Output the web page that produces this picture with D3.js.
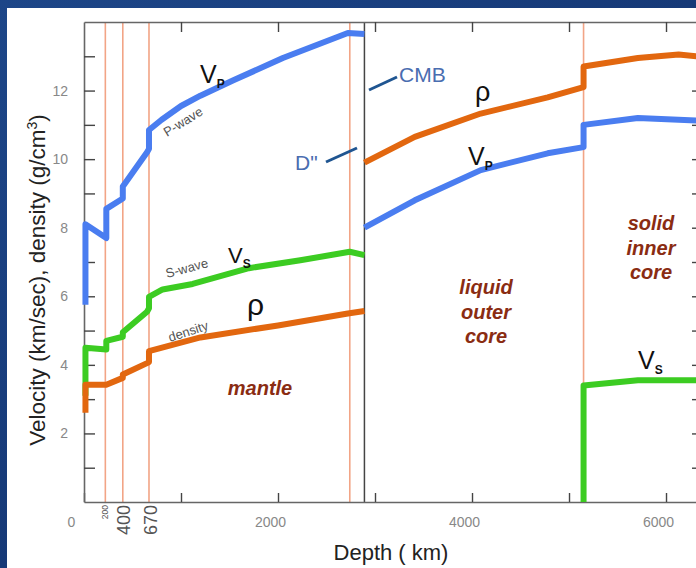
<!DOCTYPE html>
<html>
<head>
<meta charset="utf-8">
<script src="https://cdn.jsdelivr.net/npm/d3@7"></script>
<style>
  body { margin: 0; background: #16356e; }
  svg { display: block; }
  text { font-family: "Liberation Sans", Arial, sans-serif; }
</style>
</head>
<body>
<div id="chart"></div>
<script>
// depth (km) / value pairs
const vpMantle = [[15,5.75],[15,8.1],[230,7.7],[230,8.55],[400,8.85],[400,9.2],[650,10.2],[670,10.3],[670,10.85],[800,11.15],[1000,11.55],[1200,11.85],[1540,12.3],[2050,12.95],[2720,13.68],[2891,13.65]];
const vsMantle = [[15,3.1],[15,4.5],[230,4.45],[230,4.7],[400,4.82],[400,4.95],[650,5.55],[670,5.65],[670,5.98],[810,6.2],[1120,6.36],[1700,6.82],[2230,7.05],[2740,7.3],[2891,7.2]];
const rhoMantle = [[15,2.6],[15,3.42],[230,3.42],[400,3.62],[400,3.72],[650,4.05],[670,4.08],[670,4.4],[1200,4.8],[2000,5.15],[2720,5.5],[2891,5.57]];
const vpCore = [[2891,8.0],[3410,8.8],[4090,9.68],[4780,10.17],[5150,10.35],[5150,11.0],[5710,11.2],[6371,11.12]];
const rhoCore = [[2891,9.9],[3410,10.65],[4090,11.33],[4780,11.8],[5150,12.1],[5150,12.7],[5710,12.95],[6130,13.05],[6371,12.98]];
const vsCore = [[5150,0],[5150,3.4],[5710,3.55],[6371,3.55]];

const boundaries = [220, 400, 670, 2740, 5150];
const cmb = 2891;
const xTicks = [0, 1000, 2000, 3000, 4000, 5000, 6000];
const xLabels = [0, 2000, 4000, 6000];
const yTicks = [1, 2, 3, 4, 5, 6, 7, 8, 9, 10, 11, 12, 13];
const yLabels = [2, 4, 6, 8, 10, 12];

const W = 696, H = 568;
const svg = d3.select("#chart").append("svg").attr("width", W).attr("height", H);

// slide background
const grad = svg.append("defs").append("linearGradient").attr("id", "bg")
    .attr("x1", 0).attr("y1", 0).attr("x2", 1).attr("y2", 1);
grad.append("stop").attr("offset", "0%").attr("stop-color", "#1d4688");
grad.append("stop").attr("offset", "100%").attr("stop-color", "#0f2c66");
svg.append("rect").attr("width", W).attr("height", H).attr("fill", "url(#bg)");
svg.append("rect").attr("x", 7).attr("y", 8).attr("width", W - 7).attr("height", H - 8).attr("fill", "#fff");

const x = d3.scaleLinear().domain([0, 6371]).range([84, 702]);
const y = d3.scaleLinear().domain([0, 14]).range([502, 22]);

// boundary lines
svg.selectAll(".bnd").data(boundaries).enter().append("line")
    .attr("x1", d => x(d)).attr("x2", d => x(d))
    .attr("y1", y(14)).attr("y2", y(0))
    .attr("stroke", "#f2a486").attr("stroke-width", 1.6);

svg.append("line")
    .attr("x1", x(cmb)).attr("x2", x(cmb))
    .attr("y1", y(14)).attr("y2", y(0))
    .attr("stroke", "#444").attr("stroke-width", 1.5);

// axes
const axisColor = "#666";
const gB = svg.append("g").attr("transform", `translate(0,${y(0)})`)
    .call(d3.axisBottom(x).tickValues(xTicks).tickSizeInner(-9).tickSizeOuter(0)
        .tickFormat(d => xLabels.includes(d) ? d : ""));
gB.selectAll("text").attr("y", 25).attr("dy", 0).attr("dx", d => d === 0 ? -13 : -8);

const gT = svg.append("g").attr("transform", `translate(0,${y(14)})`)
    .call(d3.axisTop(x).tickValues(xTicks.slice(1)).tickSizeInner(-10).tickSizeOuter(0).tickFormat(""));

const gL = svg.append("g").attr("transform", `translate(${x(0)},0)`)
    .call(d3.axisLeft(y).tickValues(yTicks).tickSizeInner(-11).tickSizeOuter(0)
        .tickFormat(d => yLabels.includes(d) ? d : ""));
gL.selectAll("text").attr("x", -16);

const gR = svg.append("g").attr("transform", `translate(${x(6371)},0)`)
    .call(d3.axisRight(y).tickValues(yTicks).tickSizeInner(-10).tickSizeOuter(0).tickFormat(""));

[gB, gT, gL, gR].forEach(g => {
    g.select(".domain").attr("stroke", axisColor).attr("stroke-width", 1.6);
    g.selectAll(".tick line").attr("stroke", "#444").attr("stroke-width", 1.4);
    g.selectAll(".tick text").attr("fill", "#888").style("font-size", "14px")
        .style("font-family", "'Liberation Sans', Arial, sans-serif");
});

// curves
const line = d3.line().x(d => x(d[0])).y(d => y(d[1]));
const series = [
    [vpMantle, "#4a7df0"], [vpCore, "#4a7df0"],
    [vsMantle, "#3ccc22"], [vsCore, "#3ccc22"],
    [rhoMantle, "#e2670f"], [rhoCore, "#e2670f"]
];
series.forEach(([data, color]) => {
    svg.append("path").datum(data).attr("d", line)
        .attr("fill", "none").attr("stroke", color)
        .attr("stroke-width", 6).attr("stroke-linejoin", "round");
});

// rotated depth labels
[[108, 505, "200", 8.5], [130, 505, "400", 18], [157, 505, "670", 18]].forEach(([px, py, t, fs]) => {
    svg.append("text").attr("transform", `translate(${px},${py}) rotate(-90)`)
        .attr("text-anchor", "end").style("font-size", fs + "px").attr("fill", "#555").text(t);
});

// axis titles
svg.append("text").attr("transform", "translate(45,280) rotate(-90)")
    .attr("text-anchor", "middle").style("font-size", "22.5px").attr("fill", "#222")
    .html('Velocity (km/sec), density (g/cm<tspan dy="-8" style="font-size:14px">3</tspan><tspan dy="8">)</tspan>');
svg.append("text").attr("x", 391).attr("y", 560).attr("text-anchor", "middle")
    .style("font-size", "22px").attr("fill", "#222").text("Depth ( km)");

// curve labels: V with subscript
function vLabel(px, py, sub, fs) {
    const t = svg.append("text").attr("x", px).attr("y", py).attr("fill", "#111");
    t.append("tspan").style("font-size", fs + "px").text("V");
    t.append("tspan").attr("dy", 5).style("font-size", "12px")
        .style("font-weight", "bold").text(sub);
}
vLabel(200, 83, "P", 25);
vLabel(228, 263, "S", 22);
vLabel(468, 165, "P", 25);
vLabel(638, 369, "S", 25);

function rho(px, py, fs) {
    svg.append("text").attr("x", px).attr("y", py).style("font-size", fs + "px")
        .attr("fill", "#111").text("\u03c1");
}
rho(247, 315, 30);
rho(475, 101, 27);

// small labels along curves
[[167, 137, -32, "P-wave"], [167, 278, -15, "S-wave"], [170, 342, -18, "density"]].forEach(([px, py, a, t]) => {
    svg.append("text").attr("transform", `translate(${px},${py}) rotate(${a})`)
        .style("font-size", "13px").attr("fill", "#555").text(t);
});

// region labels
const regions = [
    [260, 395, ["mantle"]],
    [486, 294, ["liquid", "outer", "core"]],
    [651, 230, ["solid", "inner", "core"]]
];
regions.forEach(([px, py, lines]) => {
    const t = svg.append("text").attr("text-anchor", "middle").attr("fill", "#8a2c12")
        .style("font-size", "20px").style("font-weight", "bold").style("font-style", "italic");
    lines.forEach((l, i) => t.append("tspan").attr("x", px).attr("y", py + i * 24.5).text(l));
});

// CMB and D'' callouts
svg.append("line").attr("x1", 369).attr("y1", 90).attr("x2", 397).attr("y2", 77)
    .attr("stroke", "#1f5591").attr("stroke-width", 3);
svg.append("text").attr("x", 399).attr("y", 82).style("font-size", "21px")
    .attr("fill", "#4a6db0").text("CMB");
svg.append("line").attr("x1", 326).attr("y1", 162).attr("x2", 357).attr("y2", 148)
    .attr("stroke", "#1f5591").attr("stroke-width", 3);
svg.append("text").attr("x", 295).attr("y", 170).style("font-size", "21px")
    .attr("fill", "#4a6db0").text("D\"");
</script>
</body>
</html>
